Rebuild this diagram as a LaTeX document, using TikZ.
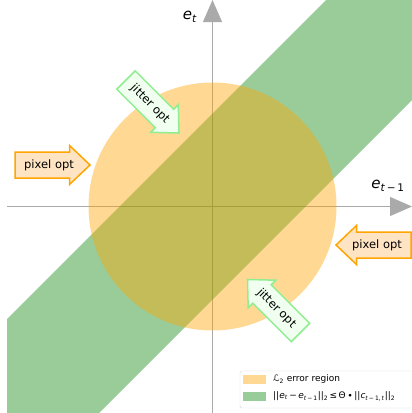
\documentclass[tikz,border=0pt]{standalone}
\usepackage{fontspec}
\setmainfont{DejaVu Sans}
\usetikzlibrary{arrows.meta}
\definecolor{bandgreen}{RGB}{0,128,0}
\definecolor{circorange}{RGB}{255,165,0}
\definecolor{axgray}{RGB}{170,170,170}
\definecolor{pixfill}{RGB}{255,228,196}
\definecolor{jitdraw}{RGB}{144,238,144}
\definecolor{jitfill}{RGB}{240,255,240}
\newcommand{\vi}[1]{\textit{#1}}
\tikzset{
  axisline/.style={draw=axgray, line width=1pt, -{Triangle[length=22pt,width=19pt]}},
  pixshape/.style={draw=circorange, fill=pixfill, line width=1.5pt},
  jitshape/.style={draw=jitdraw, fill=jitfill, line width=1.5pt},
  arrowlabel/.style={font=\fontsize{11.5}{13}\selectfont, inner sep=0pt},
  axislabel/.style={font=\fontsize{15}{18}\selectfont, inner sep=0pt},
  legendtext/.style={font=\fontsize{9}{11}\selectfont, inner sep=0pt, anchor=west},
  fatarrow/.pic={\path[pic actions] (-37.5,-13) -- (17,-13) -- (17,-19.5) -- (37.5,0) -- (17,19.5) -- (17,13) -- (-37.5,13) -- cycle;}
}
\begin{document}
\begin{tikzpicture}[x=1pt,y=-1pt]
\useasboundingbox (0,0) rectangle (412,413);
% axes
\coordinate (hx0) at (7,206.5);
\coordinate (hx1) at (412,206.5);
\coordinate (vy0) at (212.5,413);
\coordinate (vy1) at (212.5,0);
\draw[axisline] (hx0) -- (hx1);
\draw[axisline] (vy0) -- (vy1);
% band
\fill[bandgreen, opacity=0.4] (7,319) -- (326,0) -- (412,0) -- (412,100) -- (99,413) -- (7,413) -- cycle;
% circle
\fill[circorange, opacity=0.42] (212.5,206.5) circle[radius=124];
% axis labels
\node[axislabel] (lt) at (190,17) {\vi{e}\textsubscript{\vi{t}}};
\node[axislabel] (ltm) at (388,186) {\vi{e}\textsubscript{\vi{t}\,−\,1}};
% pixel opt arrows
\pic[pixshape] at (52.5,165) {fatarrow};
\node[arrowlabel] (p1) at (49,165) {pixel opt};
\pic[pixshape, rotate=180] at (373.5,245) {fatarrow};
\node[arrowlabel] (p2) at (377,245) {pixel opt};
% jitter opt arrows
\pic[jitshape, rotate=-45] at (152.5,106.5) {fatarrow};
\node[arrowlabel, rotate=-45] (j1) at (150,104) {jitter opt};
\pic[jitshape, rotate=135] at (274,306) {fatarrow};
\node[arrowlabel, rotate=-45] (j2) at (276.5,308.5) {jitter opt};
% legend
\draw[draw=black!15, fill=white, fill opacity=0.85, rounded corners=2pt] (240,371) rectangle (418,408);
\fill[circorange, opacity=0.42] (243,375) rectangle (266,384);
\fill[bandgreen, opacity=0.4] (243,392) rectangle (266,401);
\node[legendtext] (l1) at (273,379.5) {ℒ\textsubscript{2} error region};
\node[legendtext] (l2) at (273,396.5) {||\vi{e}\textsubscript{\vi{t}}\,−\,\vi{e}\textsubscript{\vi{t}\,−\,1}||\textsubscript{2}\,≤\,Θ\,∙\,||\vi{c}\textsubscript{\vi{t}\,−\,1,\,\vi{t}}||\textsubscript{2}};
\end{tikzpicture}
\end{document}
